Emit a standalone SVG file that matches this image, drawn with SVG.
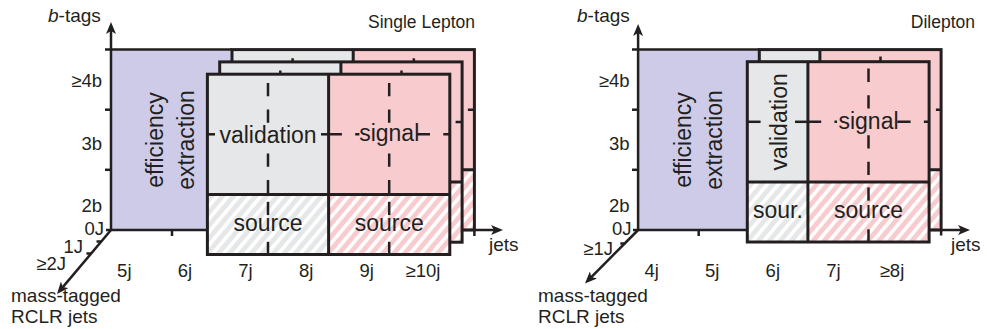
<svg xmlns="http://www.w3.org/2000/svg" xmlns:xlink="http://www.w3.org/1999/xlink" width="987" height="329" viewBox="0 0 987 329">
<style>
text{font-family:"Liberation Sans",Arial,sans-serif;fill:#231f20}
.big{font-size:23px}
.tick{font-size:18.5px}
.ax{font-size:19px}
.ttl{font-size:17.5px}
.fr{fill:none;stroke:#231f20;stroke-width:3}
.ln{stroke:#231f20;stroke-width:3}
.ds{stroke:#231f20;stroke-width:2.5;stroke-dasharray:13.3 13.3;fill:none}
.axl{stroke:#231f20;stroke-width:2.5;fill:none}
.axa{stroke:#231f20;stroke-width:2.5;fill:none;marker-end:url(#ah)}
.gr{fill:#e6e7e8}
.pk{fill:#f8cbce}
.pu{fill:#cdcbe7}
</style>
<defs>
<marker id="ah" viewBox="0 0 12 10" refX="3" refY="5" markerWidth="12" markerHeight="10" markerUnits="userSpaceOnUse" orient="auto">
<path d="M0,0 L12,5 L0,10 L3,5 z" fill="#231f20"/>
</marker>
<pattern id="hG" width="8.4" height="8.4" patternUnits="userSpaceOnUse" patternTransform="rotate(40)">
<rect width="8.4" height="8.4" fill="#e6e7e8"/><rect width="3.6" height="8.4" fill="#ffffff"/>
</pattern>
<pattern id="hP" width="8.4" height="8.4" patternUnits="userSpaceOnUse" patternTransform="rotate(40)">
<rect width="8.4" height="8.4" fill="#f8cbce"/><rect width="3.6" height="8.4" fill="#ffffff"/>
</pattern>
<g id="layerL">
<rect class="gr" x="0" y="0" width="121.2" height="120.2"/>
<rect class="pk" x="121.2" y="0" width="121.2" height="120.2"/>
<rect fill="url(#hG)" x="0" y="120.2" width="121.2" height="60.1"/>
<rect fill="url(#hP)" x="121.2" y="120.2" width="121.2" height="60.1"/>
<line class="ds" x1="60.6" y1="48.6" x2="60.6" y2="0"/>
<line class="ds" x1="60.6" y1="79.2" x2="60.6" y2="120.2"/>
<line class="ds" x1="60.6" y1="140.9" x2="60.6" y2="120.2"/>
<line class="ds" x1="60.6" y1="167.6" x2="60.6" y2="180.3"/>
<line class="ds" x1="181.8" y1="48.6" x2="181.8" y2="0"/>
<line class="ds" x1="181.8" y1="79.2" x2="181.8" y2="120.2"/>
<line class="ds" x1="181.8" y1="140.9" x2="181.8" y2="120.2"/>
<line class="ds" x1="181.8" y1="167.6" x2="181.8" y2="180.3"/>
<line class="ds" x1="0" y1="60.1" x2="7.6" y2="60.1"/>
<line class="ds" x1="113.6" y1="60.1" x2="121.2" y2="60.1"/>
<line class="ds" x1="121.2" y1="60.1" x2="152" y2="60.1"/>
<line class="ds" x1="209.3" y1="60.1" x2="242.4" y2="60.1"/>
<rect class="fr" x="0" y="0" width="242.4" height="180.3"/>
<line class="ln" x1="121.2" y1="0" x2="121.2" y2="180.3"/>
<line class="ln" x1="0" y1="120.2" x2="242.4" y2="120.2"/>
</g>
<g id="layerR">
<rect class="gr" x="0" y="0" width="60.6" height="120.2"/>
<rect class="pk" x="60.6" y="0" width="121.2" height="120.2"/>
<rect fill="url(#hG)" x="0" y="120.2" width="60.6" height="60.1"/>
<rect fill="url(#hP)" x="60.6" y="120.2" width="121.2" height="60.1"/>
<line class="ds" x1="121.2" y1="46.8" x2="121.2" y2="0"/>
<line class="ds" x1="121.2" y1="73.5" x2="121.2" y2="120.2"/>
<line class="ds" x1="121.2" y1="139" x2="121.2" y2="120.2"/>
<line class="ds" x1="121.2" y1="167.6" x2="121.2" y2="180.3"/>
<line class="ds" x1="0" y1="60.1" x2="13.3" y2="60.1"/>
<line class="ds" x1="47.7" y1="60.1" x2="60.6" y2="60.1"/>
<line class="ds" x1="60.6" y1="60.1" x2="89.7" y2="60.1"/>
<line class="ds" x1="150" y1="60.1" x2="181.8" y2="60.1"/>
<rect class="fr" x="0" y="0" width="181.8" height="180.3"/>
<line class="ln" x1="60.6" y1="0" x2="60.6" y2="180.3"/>
<line class="ln" x1="0" y1="120.2" x2="181.8" y2="120.2"/>
</g>
</defs>

<!-- LEFT PANEL: Single Lepton -->
<g id="left-efficiency">
<rect class="pu" x="111" y="49.6" width="121" height="180.4"/>
<text class="big" transform="translate(163,140) rotate(-90)" text-anchor="middle">efficiency</text>
<text class="big" transform="translate(194,140) rotate(-90)" text-anchor="middle">extraction</text>
</g>
<g id="left-axes">
<line class="axa" x1="106" y1="230" x2="494" y2="230"/>
<line class="axa" x1="111" y1="230" x2="111" y2="31"/>
<line class="axl" x1="105" y1="49.6" x2="232" y2="49.6"/>
<line class="axl" x1="105" y1="109.7" x2="111" y2="109.7"/>
<line class="axl" x1="105" y1="169.8" x2="111" y2="169.8"/>
<line class="axl" x1="172" y1="230" x2="172" y2="236"/>
<line class="axl" x1="474.4" y1="230" x2="474.4" y2="236"/>
<line class="axa" x1="111" y1="230" x2="62.8" y2="287.1"/>
<line class="axl" x1="101.4" y1="241.5" x2="96.5" y2="241.5"/>
<line class="axl" x1="91.3" y1="253.5" x2="86.4" y2="253.5"/>
</g>
<g id="left-layer-0J"><use xlink:href="#layerL" x="232" y="49.6"/></g>
<g id="left-layer-1J"><use xlink:href="#layerL" x="219.7" y="61.9"/></g>
<g id="left-layer-2J">
<use xlink:href="#layerL" x="207.4" y="74.2"/>
<text class="big" x="268" y="143.4" text-anchor="middle">validation</text>
<text class="big" x="389.2" y="141.1" text-anchor="middle">signal</text>
<text class="big" x="268" y="230.6" text-anchor="middle">source</text>
<text class="big" x="389.2" y="230.6" text-anchor="middle">source</text>
</g>
<g id="left-labels">
<text class="ttl" x="475" y="28" text-anchor="end">Single Lepton</text>
<text class="ax" x="48" y="22"><tspan font-style="italic">b</tspan>-tags</text>
<text class="tick" x="102" y="87" text-anchor="end">≥4b</text>
<text class="tick" x="102" y="150" text-anchor="end">3b</text>
<text class="tick" x="102" y="211.5" text-anchor="end">2b</text>
<text class="tick" x="104" y="234.5" text-anchor="end">0J</text>
<text class="tick" x="83" y="253" text-anchor="end">1J</text>
<text class="tick" x="66" y="270" text-anchor="end">≥2J</text>
<text class="tick" x="124.3" y="277" text-anchor="middle">5j</text>
<text class="tick" x="184.9" y="277" text-anchor="middle">6j</text>
<text class="tick" x="245.5" y="277" text-anchor="middle">7j</text>
<text class="tick" x="306.1" y="277" text-anchor="middle">8j</text>
<text class="tick" x="366.7" y="277" text-anchor="middle">9j</text>
<text class="tick" x="423" y="277" text-anchor="middle">≥10j</text>
<text class="ax" x="489" y="251">jets</text>
<text class="ax" x="11" y="302">mass-tagged</text>
<text class="ax" x="11" y="323">RCLR jets</text>
</g>

<!-- RIGHT PANEL: Dilepton -->
<g id="right-efficiency">
<rect class="pu" x="638.1" y="49.6" width="121.2" height="180.4"/>
<text class="big" transform="translate(691,140) rotate(-90)" text-anchor="middle">efficiency</text>
<text class="big" transform="translate(722,140) rotate(-90)" text-anchor="middle">extraction</text>
</g>
<g id="right-axes">
<line class="axa" x1="633" y1="230" x2="961" y2="230"/>
<line class="axa" x1="638.1" y1="230" x2="638.1" y2="33"/>
<line class="axl" x1="632" y1="49.6" x2="759.3" y2="49.6"/>
<line class="axl" x1="632" y1="109.7" x2="638.1" y2="109.7"/>
<line class="axl" x1="632" y1="169.8" x2="638.1" y2="169.8"/>
<line class="axl" x1="698.7" y1="230" x2="698.7" y2="236"/>
<line class="axl" x1="941.1" y1="230" x2="941.1" y2="235.5"/>
<line class="axa" x1="638.1" y1="230" x2="591.3" y2="277.1"/>
<line class="axl" x1="625.2" y1="243.5" x2="620.3" y2="243.5"/>
</g>
<g id="right-layer-0J"><use xlink:href="#layerR" x="759.3" y="49.6"/></g>
<g id="right-layer-1J">
<use xlink:href="#layerR" x="747.3" y="61.7"/>
<text class="big" transform="translate(786.5,121.8) rotate(-90)" text-anchor="middle">validation</text>
<text class="big" x="868.5" y="128.6" text-anchor="middle">signal</text>
<text class="big" x="777.9" y="218.1" text-anchor="middle">sour.</text>
<text class="big" x="868.5" y="218.1" text-anchor="middle">source</text>
</g>
<g id="right-labels">
<text class="ttl" x="975" y="28" text-anchor="end">Dilepton</text>
<text class="ax" x="577" y="22"><tspan font-style="italic">b</tspan>-tags</text>
<text class="tick" x="629.5" y="87" text-anchor="end">≥4b</text>
<text class="tick" x="629.5" y="150" text-anchor="end">3b</text>
<text class="tick" x="629.5" y="211.5" text-anchor="end">2b</text>
<text class="tick" x="631.5" y="234.5" text-anchor="end">0J</text>
<text class="tick" x="613" y="255" text-anchor="end">≥1J</text>
<text class="tick" x="651.6" y="277" text-anchor="middle">4j</text>
<text class="tick" x="712.2" y="277" text-anchor="middle">5j</text>
<text class="tick" x="772.8" y="277" text-anchor="middle">6j</text>
<text class="tick" x="833.4" y="277" text-anchor="middle">7j</text>
<text class="tick" x="892" y="277" text-anchor="middle">≥8j</text>
<text class="ax" x="951" y="251">jets</text>
<text class="ax" x="538" y="302">mass-tagged</text>
<text class="ax" x="538" y="323">RCLR jets</text>
</g>
</svg>
